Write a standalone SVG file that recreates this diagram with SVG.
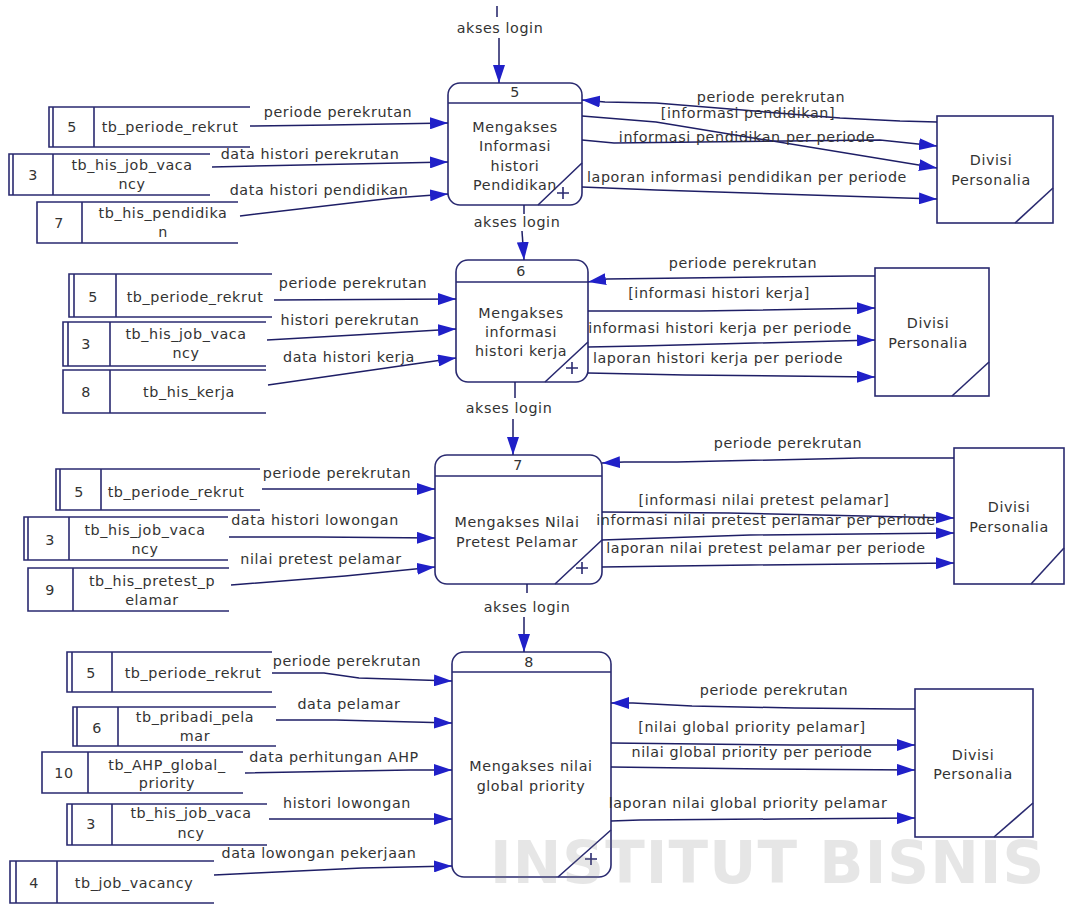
<svg xmlns="http://www.w3.org/2000/svg" width="1066" height="904" viewBox="0 0 1066 904">
<defs>
<style>
.ln{fill:none;stroke:#1e1e66;stroke-width:1.5}
.bx{fill:#fff;stroke:#2a2a70;stroke-width:1.6}
.st{fill:none;stroke:#2a2a70;stroke-width:1.6}
.t{font-family:"DejaVu Sans","Liberation Sans",sans-serif;font-size:14.3px;fill:#333;letter-spacing:0.6px;text-anchor:middle}
.wm{font-family:"DejaVu Sans",sans-serif;font-weight:bold;font-size:58px;fill:#7a7a7a;opacity:0.18;letter-spacing:1.1px}
</style>
<marker id="ah" markerUnits="userSpaceOnUse" markerWidth="18" markerHeight="12" refX="18" refY="6" orient="auto"><path d="M0,0 L18,6 L0,12 z" fill="#2020c8"/></marker>
</defs>
<rect width="1066" height="904" fill="#fff"/>

<!-- ===== Processes ===== -->
<g id="p5">
<rect class="bx" x="448" y="83" width="134" height="122" rx="12"/>
<path class="st" d="M448,103 H582 M538,205 L582,163 M557,193 H569 M563,187 V199"/>
<text class="t" x="515" y="97">5</text>
<text class="t" x="515" y="132">Mengakses</text>
<text class="t" x="515" y="151">Informasi</text>
<text class="t" x="515" y="171">histori</text>
<text class="t" x="515" y="190">Pendidikan</text>
</g>
<g id="p6">
<rect class="bx" x="456" y="260" width="132" height="122" rx="12"/>
<path class="st" d="M456,282 H588 M545,382 L588,342 M566,368 H578 M572,362 V374"/>
<text class="t" x="521" y="276">6</text>
<text class="t" x="521" y="318">Mengakses</text>
<text class="t" x="521" y="337">informasi</text>
<text class="t" x="521" y="356">histori kerja</text>
</g>
<g id="p7">
<rect class="bx" x="435" y="455" width="167" height="129" rx="12"/>
<path class="st" d="M435,476 H602 M555,584 L602,540 M576,568 H588 M582,562 V574"/>
<text class="t" x="518" y="470">7</text>
<text class="t" x="517" y="527">Mengakses Nilai</text>
<text class="t" x="517" y="547">Pretest Pelamar</text>
</g>
<g id="p8">
<rect class="bx" x="452" y="652" width="159" height="225" rx="12"/>
<path class="st" d="M452,672 H611 M558,877 L611,830 M585,859 H597 M591,853 V865"/>
<text class="t" x="529" y="667">8</text>
<text class="t" x="531" y="771">Mengakses nilai</text>
<text class="t" x="531" y="791">global priority</text>
</g>

<!-- ===== External entities ===== -->
<g id="divisi-1">
<rect class="bx" x="937" y="116" width="116" height="107"/>
<path class="st" d="M1015,223 L1053,188"/>
<text class="t" x="991" y="165">Divisi</text>
<text class="t" x="991" y="185">Personalia</text>
</g>
<g id="divisi-2">
<rect class="bx" x="875" y="268" width="114" height="128"/>
<path class="st" d="M952,396 L989,362"/>
<text class="t" x="928" y="328">Divisi</text>
<text class="t" x="928" y="348">Personalia</text>
</g>
<g id="divisi-3">
<rect class="bx" x="954" y="448" width="110" height="136"/>
<path class="st" d="M1031,584 L1064,548"/>
<text class="t" x="1009" y="512">Divisi</text>
<text class="t" x="1009" y="532">Personalia</text>
</g>
<g id="divisi-4">
<rect class="bx" x="915" y="689" width="118" height="148"/>
<path class="st" d="M994,837 L1033,803"/>
<text class="t" x="973" y="760">Divisi</text>
<text class="t" x="973" y="779">Personalia</text>
</g>

<!-- ===== Data stores ===== -->
<g id="ds-s1-periode">
<path class="st" d="M250,107 H49 V147 H250 M53,107 V147 M94,107 V147"/>
<text class="t" x="72" y="132">5</text>
<text class="t" x="170" y="132">tb_periode_rekrut</text>
</g>
<g id="ds-s1-hisjob">
<path class="st" d="M210,154 H9 V195 H210 M13,154 V195 M53,154 V195"/>
<text class="t" x="33" y="180">3</text>
<text class="t" x="132" y="170">tb_his_job_vaca</text>
<text class="t" x="132" y="189">ncy</text>
</g>
<g id="ds-s1-pendidikan">
<path class="st" d="M238,202 H37 V243 H238 M82,202 V243"/>
<text class="t" x="59" y="228">7</text>
<text class="t" x="163" y="218">tb_his_pendidika</text>
<text class="t" x="163" y="237">n</text>
</g>

<g id="ds-s2-periode">
<path class="st" d="M272,274 H69 V317 H272 M74,274 V317 M116,274 V317"/>
<text class="t" x="93" y="302">5</text>
<text class="t" x="195" y="302">tb_periode_rekrut</text>
</g>
<g id="ds-s2-hisjob">
<path class="st" d="M266,322 H63 V366 H266 M68,322 V366 M110,322 V366"/>
<text class="t" x="86" y="349">3</text>
<text class="t" x="186" y="339">tb_his_job_vaca</text>
<text class="t" x="186" y="358">ncy</text>
</g>
<g id="ds-s2-kerja">
<path class="st" d="M266,370 H63 V413 H266 M110,370 V413"/>
<text class="t" x="86" y="397">8</text>
<text class="t" x="189" y="397">tb_his_kerja</text>
</g>

<g id="ds-s3-periode">
<path class="st" d="M260,469 H56 V510 H260 M60,469 V510 M101,469 V510"/>
<text class="t" x="79" y="497">5</text>
<text class="t" x="176" y="497">tb_periode_rekrut</text>
</g>
<g id="ds-s3-hisjob">
<path class="st" d="M228,517 H24 V560 H228 M28,517 V560 M69,517 V560"/>
<text class="t" x="50" y="545">3</text>
<text class="t" x="145" y="535">tb_his_job_vaca</text>
<text class="t" x="145" y="554">ncy</text>
</g>
<g id="ds-s3-pretest">
<path class="st" d="M229,568 H28 V611 H229 M73,568 V611"/>
<text class="t" x="50" y="595">9</text>
<text class="t" x="152" y="586">tb_his_pretest_p</text>
<text class="t" x="152" y="605">elamar</text>
</g>

<g id="ds-s4-periode">
<path class="st" d="M272,652 H67 V692 H272 M72,652 V692 M112,652 V692"/>
<text class="t" x="91" y="678">5</text>
<text class="t" x="193" y="678">tb_periode_rekrut</text>
</g>
<g id="ds-s4-pribadi">
<path class="st" d="M276,707 H73 V746 H276 M77,707 V746 M118,707 V746"/>
<text class="t" x="97" y="733">6</text>
<text class="t" x="195" y="722">tb_pribadi_pela</text>
<text class="t" x="195" y="741">mar</text>
</g>
<g id="ds-s4-ahp">
<path class="st" d="M243,752 H42 V793 H243 M88,752 V793"/>
<text class="t" x="64" y="778">10</text>
<text class="t" x="167" y="770">tb_AHP_global_</text>
<text class="t" x="167" y="788">priority</text>
</g>
<g id="ds-s4-hisjob">
<path class="st" d="M267,804 H67 V845 H267 M72,804 V845 M112,804 V845"/>
<text class="t" x="91" y="829">3</text>
<text class="t" x="191" y="818">tb_his_job_vaca</text>
<text class="t" x="191" y="838">ncy</text>
</g>
<g id="ds-s4-jobvac">
<path class="st" d="M214,861 H10 V903 H214 M16,861 V903 M57,861 V903"/>
<text class="t" x="34" y="888">4</text>
<text class="t" x="134" y="888">tb_job_vacancy</text>
</g>

<!-- ===== Connectors ===== -->
<g id="connectors">
<!-- akses login -->
<path class="ln" d="M497,6 V17"/>
<path class="ln" d="M499,38 V83" marker-end="url(#ah)"/>
<text class="t" x="500" y="33">akses login</text>
<path class="ln" d="M524,205 V214"/>
<path class="ln" d="M522,231 L524,260" marker-end="url(#ah)"/>
<text class="t" x="517" y="227">akses login</text>
<path class="ln" d="M515,382 V398"/>
<path class="ln" d="M513,419 V455" marker-end="url(#ah)"/>
<text class="t" x="509" y="413">akses login</text>
<path class="ln" d="M527,584 V593"/>
<path class="ln" d="M524,617 V652" marker-end="url(#ah)"/>
<text class="t" x="527" y="612">akses login</text>

<!-- section 5 -->
<path class="ln" d="M250,126 L330,125 L448,123" marker-end="url(#ah)"/>
<text class="t" x="338" y="117">periode perekrutan</text>
<path class="ln" d="M212,167 L448,162" marker-end="url(#ah)"/>
<text class="t" x="310" y="159">data histori perekrutan</text>
<path class="ln" d="M240,216 L393,198 L448,194" marker-end="url(#ah)"/>
<text class="t" x="319" y="195">data histori pendidikan</text>
<path class="ln" d="M937,122 L900,121 L840,118 L656,103 L605,102 L582,100" marker-end="url(#ah)"/>
<text class="t" x="771" y="102">periode perekrutan</text>
<path class="ln" d="M582,116 L656,122 L937,168" marker-end="url(#ah)"/>
<text class="t" x="748" y="118">[informasi pendidikan]</text>
<path class="ln" d="M582,140 L614,143 L880,140 L937,146" marker-end="url(#ah)"/>
<text class="t" x="747" y="142">informasi pendidikan per periode</text>
<path class="ln" d="M582,187 L656,190 L937,199" marker-end="url(#ah)"/>
<text class="t" x="747" y="182">laporan informasi pendidikan per periode</text>

<!-- section 6 -->
<path class="ln" d="M274,300 L456,299" marker-end="url(#ah)"/>
<text class="t" x="353" y="288">periode perekrutan</text>
<path class="ln" d="M267,340 L355,335 L456,329" marker-end="url(#ah)"/>
<text class="t" x="350" y="325">histori perekrutan</text>
<path class="ln" d="M268,385 L414,364 L456,358" marker-end="url(#ah)"/>
<text class="t" x="349" y="362">data histori kerja</text>
<path class="ln" d="M875,276 L853,276 L607,279 L588,282" marker-end="url(#ah)"/>
<text class="t" x="743" y="268">periode perekrutan</text>
<path class="ln" d="M588,311 L700,311 L875,308" marker-end="url(#ah)"/>
<text class="t" x="719" y="298">[informasi histori kerja]</text>
<path class="ln" d="M588,347 L640,346 L875,340" marker-end="url(#ah)"/>
<text class="t" x="720" y="333">informasi histori kerja per periode</text>
<path class="ln" d="M588,373 L685,375 L875,377" marker-end="url(#ah)"/>
<text class="t" x="718" y="363">laporan histori kerja per periode</text>

<!-- section 7 -->
<path class="ln" d="M262,489 L435,489" marker-end="url(#ah)"/>
<text class="t" x="337" y="478">periode perekrutan</text>
<path class="ln" d="M229,537 L317,537 L435,538" marker-end="url(#ah)"/>
<text class="t" x="315" y="525">data histori lowongan</text>
<path class="ln" d="M231,585 L345,576 L435,567" marker-end="url(#ah)"/>
<text class="t" x="321" y="564">nilai pretest pelamar</text>
<path class="ln" d="M954,458 L860,458 L677,462 L624,462 L602,463" marker-end="url(#ah)"/>
<text class="t" x="788" y="448">periode perekrutan</text>
<path class="ln" d="M602,512 L729,513 L954,518" marker-end="url(#ah)"/>
<text class="t" x="764" y="505">[informasi nilai pretest pelamar]</text>
<path class="ln" d="M602,540 L750,535 L954,533" marker-end="url(#ah)"/>
<text class="t" x="766" y="525">informasi nilai pretest perlamar per periode</text>
<path class="ln" d="M602,567 L750,565 L954,563" marker-end="url(#ah)"/>
<text class="t" x="766" y="553">laporan nilai pretest pelamar per periode</text>

<!-- section 8 -->
<path class="ln" d="M272,673 L324,673 L359,678 L452,681" marker-end="url(#ah)"/>
<text class="t" x="347" y="666">periode perekrutan</text>
<path class="ln" d="M276,720 L336,720 L452,723" marker-end="url(#ah)"/>
<text class="t" x="349" y="709">data pelamar</text>
<path class="ln" d="M245,773 L410,770 L452,770" marker-end="url(#ah)"/>
<text class="t" x="334" y="762">data perhitungan AHP</text>
<path class="ln" d="M269,819 L452,819" marker-end="url(#ah)"/>
<text class="t" x="347" y="808">histori lowongan</text>
<path class="ln" d="M214,875 L256,873 L362,868 L452,866" marker-end="url(#ah)"/>
<text class="t" x="319" y="858">data lowongan pekerjaan</text>
<path class="ln" d="M915,709 L898,709 L795,708 L692,706 L633,703 L611,703" marker-end="url(#ah)"/>
<text class="t" x="774" y="695">periode perekrutan</text>
<path class="ln" d="M611,743 L793,745 L915,745" marker-end="url(#ah)"/>
<text class="t" x="752" y="732">[nilai global priority pelamar]</text>
<path class="ln" d="M611,767 L764,769 L915,770" marker-end="url(#ah)"/>
<text class="t" x="752" y="757">nilai global priority per periode</text>
<path class="ln" d="M611,821 L640,820 L780,819 L915,818" marker-end="url(#ah)"/>
<text class="t" x="748" y="808">laporan nilai global priority pelamar</text>
</g>

<!-- watermark -->
<text class="wm" x="490" y="883">INSTITUT BISNIS</text>
</svg>
